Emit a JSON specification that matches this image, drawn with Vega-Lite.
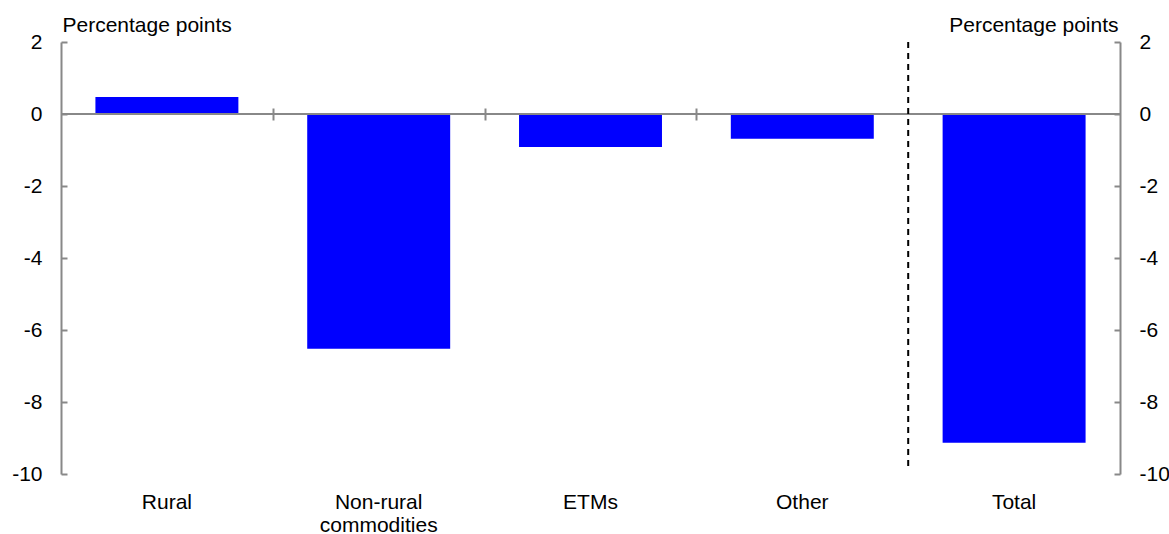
{
  "$schema": "https://vega.github.io/schema/vega-lite/v6.json",
  "width": 1059,
  "height": 432,
  "autosize": {"type": "none"},
  "padding": {"left": 61, "top": 42, "right": 49, "bottom": 60},
  "background": "white",
  "config": {
    "font": "Liberation Sans",
    "view": {"stroke": null},
    "axis": {"labelFont": "Liberation Sans", "titleFont": "Liberation Sans", "labelColor": "black", "titleColor": "black", "labelFontSize": 21, "titleFontSize": 21, "titleFontWeight": "normal", "grid": false}
  },
  "data": {"values": [
    {"cat": "Rural", "value": 0.47},
    {"cat": "Non-rural commodities", "value": -6.52},
    {"cat": "ETMs", "value": -0.92},
    {"cat": "Other", "value": -0.69},
    {"cat": "Total", "value": -9.13}
  ]},
  "resolve": {"scale": {"x": "independent"}, "axis": {"x": "independent", "y": "independent"}},
  "layer": [
    {
      "mark": {"type": "bar", "color": "#0000FF"},
      "encoding": {
        "x": {"field": "cat", "type": "nominal", "sort": null,
              "scale": {"paddingInner": 0.325, "paddingOuter": 0.1625},
              "axis": {"title": null, "orient": "bottom", "domain": false, "ticks": false, "labelAngle": 0, "labelPadding": 17, "labelLineHeight": 23,
                       "labelExpr": "datum.value == 'Non-rural commodities' ? ['Non-rural', 'commodities'] : datum.value"}},
        "y": {"field": "value", "type": "quantitative",
              "scale": {"domain": [-10, 2], "nice": false, "zero": false},
              "axis": {"orient": "left", "values": [-10, -8, -6, -4, -2, 0, 2], "labelExpr": "'' + datum.value", "domainColor": "#888888", "domainWidth": 2, "tickColor": "#888888", "tickWidth": 2, "tickSize": -6, "labelPadding": 25,
                       "title": "Percentage points", "titleAngle": 0, "titleAlign": "left", "titleBaseline": "alphabetic", "titleX": 1, "titleY": -11}}
      }
    },
    {
      "mark": {"type": "rule", "color": "#888888", "strokeWidth": 2},
      "encoding": {
        "y": {"datum": 0, "type": "quantitative",
              "axis": {"orient": "right", "values": [-10, -8, -6, -4, -2, 0, 2], "labelExpr": "'' + datum.value", "domainColor": "#888888", "domainWidth": 2, "tickColor": "#888888", "tickWidth": 2, "tickSize": -6, "labelPadding": 25,
                       "title": "Percentage points", "titleAngle": 0, "titleAlign": "right", "titleBaseline": "alphabetic", "titleX": -2, "titleY": -11}}
      }
    },
    {
      "data": {"values": [{"pos": 4, "top": 2, "bottom": -9.85}]},
      "mark": {"type": "rule", "color": "black", "strokeWidth": 2, "strokeDash": [6, 5]},
      "encoding": {
        "x": {"field": "pos", "type": "quantitative", "scale": {"domain": [0, 5], "nice": false, "zero": false},
              "axis": {"title": null, "orient": "bottom", "offset": -366, "domain": false, "labels": false, "values": [1, 2, 3], "tickSize": 12, "tickColor": "#888888", "tickWidth": 2}},
        "y": {"field": "top", "type": "quantitative", "axis": null},
        "y2": {"field": "bottom"}
      }
    }
  ]
}
